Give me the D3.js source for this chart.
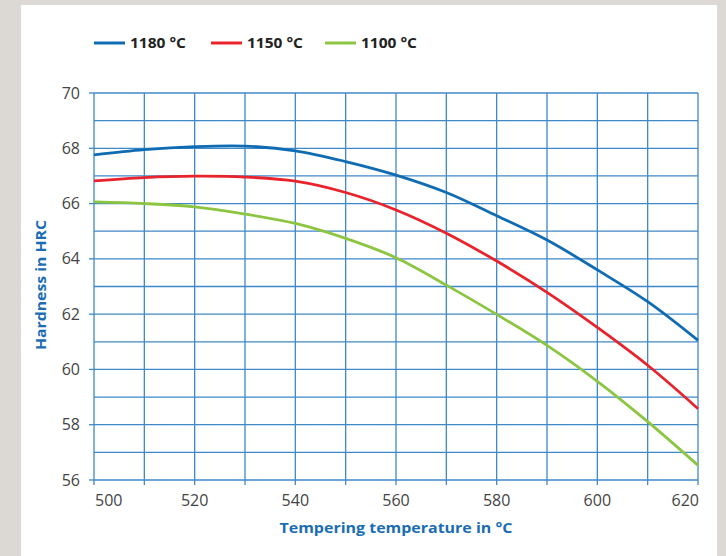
<!DOCTYPE html>
<html><head><meta charset="utf-8">
<script src="https://cdn.jsdelivr.net/npm/d3@7"></script>
<style>
html,body{margin:0;padding:0;background:#dcd8d4;}
svg{display:block;}
</style></head>
<body>
<script>
const temps = [500,510,520,530,540,550,560,570,580,590,600,610,620];
const hard1180 = [67.76,67.95,68.06,68.08,67.91,67.52,67.03,66.40,65.56,64.68,63.60,62.45,61.05];
const hard1150 = [66.82,66.94,66.99,66.96,66.81,66.40,65.77,64.93,63.92,62.79,61.52,60.15,58.58];
const hard1100 = [66.06,66.00,65.88,65.62,65.28,64.74,64.04,63.05,61.99,60.87,59.57,58.11,56.53];
const seriesNames = ["1180 °C","1150 °C","1100 °C"];
const colors = ["#0f6cb2","#e8232b","#8cc540"];
const yTicks = [56,58,60,62,64,66,68,70];
const xTicks = [500,520,540,560,580,600,620];

const W=726,H=556;
const svg=d3.select("body").append("svg").attr("width",W).attr("height",H);
svg.append("rect").attr("x",0).attr("y",0).attr("width",W).attr("height",H).attr("fill","#dcd8d4");
svg.append("rect").attr("x",21).attr("y",5).attr("width",696).attr("height",H-5).attr("fill","#ffffff");

const x=d3.scaleLinear().domain([500,620]).range([94,698]);
const y=d3.scaleLinear().domain([56,70]).range([480,93]);
const grid="#3f88c8";

const g=svg.append("g");
g.selectAll("line.h").data(d3.range(56,71,1)).join("line")
 .attr("x1",x(500)).attr("x2",x(620)).attr("y1",d=>y(d)).attr("y2",d=>y(d))
 .attr("stroke",grid).attr("stroke-width",1.3);
g.selectAll("line.v").data(d3.range(500,621,10)).join("line")
 .attr("x1",d=>x(d)).attr("x2",d=>x(d)).attr("y1",y(70)).attr("y2",y(56)+5)
 .attr("stroke",grid).attr("stroke-width",1.3);
g.selectAll("line.yt").data(yTicks).join("line")
 .attr("x1",x(500)-5).attr("x2",x(500)).attr("y1",d=>y(d)).attr("y2",d=>y(d))
 .attr("stroke",grid).attr("stroke-width",1.3);

svg.append("g").selectAll("text").data(yTicks).join("text")
 .attr("x",80).attr("y",d=>y(d)).attr("dy","0.35em").attr("text-anchor","end")
 .attr("font-family","Open Sans, sans-serif").attr("font-size",16).attr("fill","#444")
 .text(d=>d);
svg.append("g").selectAll("text").data(xTicks).join("text")
 .attr("x",(d,i)=> i===0 ? x(d)+1 : (i===xTicks.length-1 ? x(d)+1 : x(d)))
 .attr("y",500).attr("dy","0.35em")
 .attr("text-anchor",(d,i)=> i===0 ? "start" : (i===xTicks.length-1 ? "end" : "middle"))
 .attr("font-family","Open Sans, sans-serif").attr("font-size",16).attr("fill","#444")
 .text(d=>d);

svg.append("text").attr("transform","translate(46,285) rotate(-90)")
 .attr("text-anchor","middle").attr("font-family","Open Sans, sans-serif")
 .attr("font-weight","bold").attr("font-size",15).attr("fill","#1a6db3")
 .attr("textLength",130).attr("lengthAdjust","spacingAndGlyphs")
 .text("Hardness in HRC");
svg.append("text").attr("x",396).attr("y",533)
 .attr("text-anchor","middle").attr("font-family","Open Sans, sans-serif")
 .attr("font-weight","bold").attr("font-size",15).attr("fill","#1a6db3")
 .attr("textLength",233).attr("lengthAdjust","spacingAndGlyphs")
 .text("Tempering temperature in °C");

const data=[hard1180,hard1150,hard1100];
const line=d3.line().x((d,i)=>x(temps[i])).y(d=>y(d)).curve(d3.curveCatmullRom.alpha(0.5));
svg.append("g").selectAll("path").data(data).join("path")
 .attr("d",d=>line(d)).attr("fill","none").attr("stroke",(d,i)=>colors[i]).attr("stroke-width",2.8);

const legX=[94,211,325];
const leg=svg.append("g").selectAll("g").data(seriesNames).join("g")
 .attr("transform",(d,i)=>`translate(${legX[i]},43)`);
leg.append("line").attr("x1",0).attr("x2",31).attr("y1",0).attr("y2",0)
 .attr("stroke",(d,i)=>colors[i]).attr("stroke-width",3);
leg.append("text").attr("x",36).attr("y",0).attr("dy","0.35em")
 .attr("font-family","Open Sans, sans-serif").attr("font-weight","bold").attr("font-size",15)
 .attr("fill","#222").attr("textLength",56).attr("lengthAdjust","spacingAndGlyphs")
 .text(d=>d);
</script>
</body></html>
